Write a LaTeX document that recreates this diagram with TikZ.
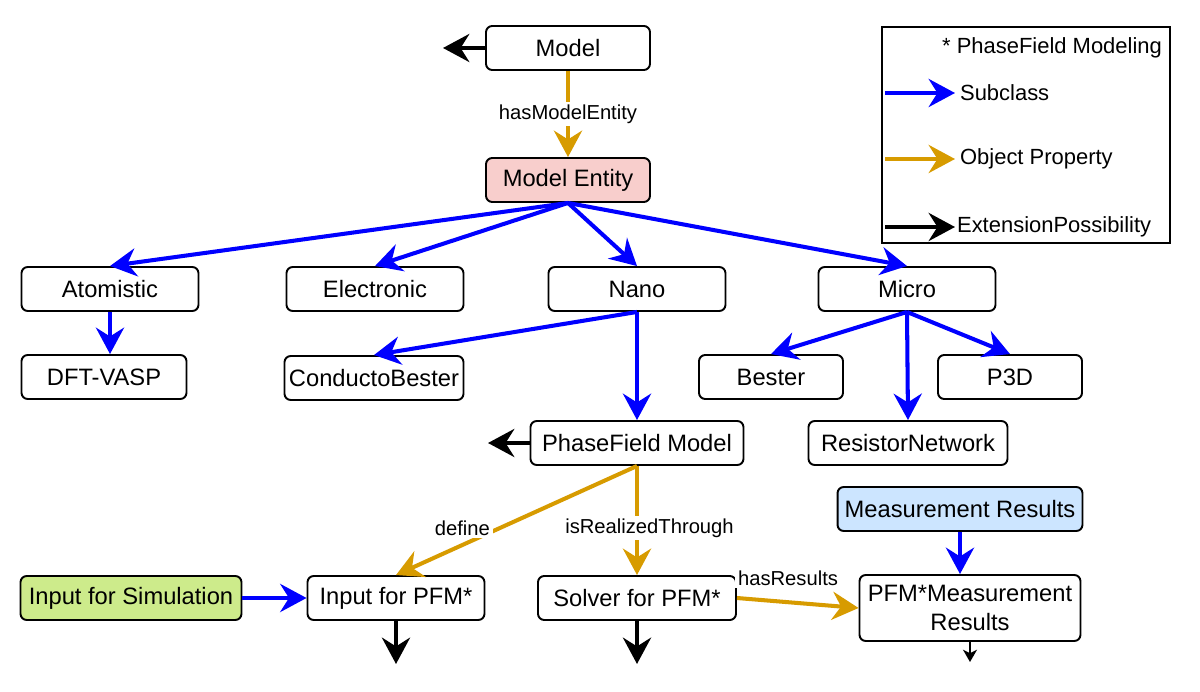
\documentclass[tikz,border=0pt]{standalone}
\usepackage{fontspec}
\setmainfont{Liberation Sans}
\usetikzlibrary{arrows.meta,positioning}
\definecolor{SubBlue}{HTML}{0000FF}
\definecolor{PropGold}{HTML}{D79B00}
\definecolor{EntityPink}{HTML}{F8CECC}
\definecolor{MeasBlue}{HTML}{CCE5FF}
\definecolor{InputGreen}{HTML}{CDEB8B}

\begin{document}
\begin{tikzpicture}[x=0.02cm,y=-0.02cm,
    box/.style={draw=black, line width=1.1pt, rounded corners=3.5pt, fill=white, minimum height=0.88cm, align=center, inner xsep=1pt, font=\fontsize{13.5}{16}\selectfont},
    sub/.style={-{Stealth[length=15pt,width=16pt,inset=5pt]}, line width=2.3pt, SubBlue},
    prop/.style={-{Stealth[length=15pt,width=16pt,inset=5pt]}, line width=2.3pt, PropGold},
    ext/.style={-{Stealth[length=15pt,width=16pt,inset=5pt]}, line width=2.3pt, black},
    lbl/.style={fill=white, inner sep=1.5pt, font=\fontsize{11.5}{13}\selectfont, text=black},
    keytxt/.style={anchor=west, inner sep=1pt, font=\fontsize{12.5}{14}\selectfont}]
    \useasboundingbox (0,0) rectangle (1200,692);

    % top
    \node[box, minimum width=3.28cm] (model) at (568,48) {Model};
    \node[box, minimum width=3.28cm, fill=EntityPink] (entity) at (568,180) {Model Entity};

    % level 1
    \node[box, minimum width=3.54cm] (atom) at (110,289) {Atomistic};
    \node[box, minimum width=3.54cm] (elec) at (375,289) {Electronic};
    \node[box, minimum width=3.54cm] (nano) at (637,289) {Nano};
    \node[box, minimum width=3.54cm] (micro) at (907,289) {Micro};

    % level 2
    \node[box, minimum width=3.30cm] (dft) at (104,377) {DFT-VASP};
    \node[box, minimum width=3.58cm] (cbest) at (374,378) {ConductoBester};
    \node[box, minimum width=2.88cm] (bester) at (771,377) {Bester};
    \node[box, minimum width=2.88cm] (p3d) at (1010,377) {P3D};
    \node[box, minimum width=3.98cm] (resnet) at (908,443) {ResistorNetwork};
    \node[box, minimum width=4.26cm] (pfmodel) at (637,443) {PhaseField Model};

    % bottom
    \node[box, minimum width=4.90cm, fill=MeasBlue] (meas) at (960,509) {Measurement Results};
    \node[box, minimum width=4.42cm, fill=InputGreen] (simin) at (131,598) {Input for Simulation};
    \node[box, minimum width=3.54cm] (pfmin) at (396,598) {Input for PFM*};
    \node[box, minimum width=3.96cm] (solver) at (637,598) {Solver for PFM*};
    \node[box, minimum width=4.42cm, minimum height=1.32cm] (pfmmeas) at (970,608) {PFM*Measurement\\Results};

    % loose ends
    \coordinate (modelx) at (443,48);
    \coordinate (pfx) at (488,443);
    \coordinate (pfminx) at (396,664);
    \coordinate (solverx) at (637,664);
    \coordinate (measx) at (970,662);

    % connectors
    \draw[ext] (model.west) -- (modelx);
    \draw[prop] (model.south) -- node[lbl, pos=0.5] {hasModelEntity} (entity.north);
    \draw[sub] (entity.south) -- (atom.north);
    \draw[sub] (entity.south) -- (elec.north);
    \draw[sub] (entity.south) -- (nano.north);
    \draw[sub] (entity.south) -- (micro.north);
    \draw[sub] (atom.south) -- (dft.north -| atom.south);
    \draw[sub] (nano.south) -- (cbest.north);
    \draw[sub] (nano.south) -- (pfmodel.north);
    \draw[sub] (micro.south) -- (bester.north);
    \draw[sub] (micro.south) -- (resnet.north);
    \draw[sub] (micro.south) -- (p3d.north);
    \draw[ext] (pfmodel.west) -- (pfx);
    \draw[prop] (pfmodel.south) -- node[lbl, pos=0.6, xshift=-0.6cm, yshift=0.06cm] {define} (pfmin.north);
    \draw[prop] (pfmodel.south) -- node[lbl, pos=0.57, xshift=0.25cm] {isRealizedThrough} (solver.north);
    \draw[prop] (solver.east) -- node[lbl, pos=0.42, above=7pt] {hasResults} (pfmmeas.west);
    \draw[sub] (meas.south) -- (meas.south |- pfmmeas.north);
    \draw[sub] (simin.east) -- (pfmin.west);
    \draw[ext] (pfmin.south) -- (pfminx);
    \draw[ext] (solver.south) -- (solverx);
    \draw[-{Stealth[length=7pt,width=8pt,inset=2pt]}, line width=1pt] (pfmmeas.south) -- (measx);

    % legend
    \node[draw=black, line width=1.1pt, minimum width=5.76cm, minimum height=4.32cm] (legend) at (1026,135) {};
    \node[keytxt, anchor=east] (star) at (1164,48) {* PhaseField Modeling};
    \coordinate (subA) at (885,93);
    \coordinate (subB) at (955,93);
    \coordinate (propA) at (885,159);
    \coordinate (propB) at (955,159);
    \coordinate (extA) at (885,227);
    \coordinate (extB) at (955,227);
    \draw[sub] (subA) -- (subB);
    \draw[prop] (propA) -- (propB);
    \draw[ext] (extA) -- (extB);
    \node[keytxt] (subtxt) at (958,93) {Subclass};
    \node[keytxt] (proptxt) at (958,159) {Object Property};
    \node[keytxt] (exttxt) at (955,227) {ExtensionPossibility};
  \end{tikzpicture}
\end{document}
